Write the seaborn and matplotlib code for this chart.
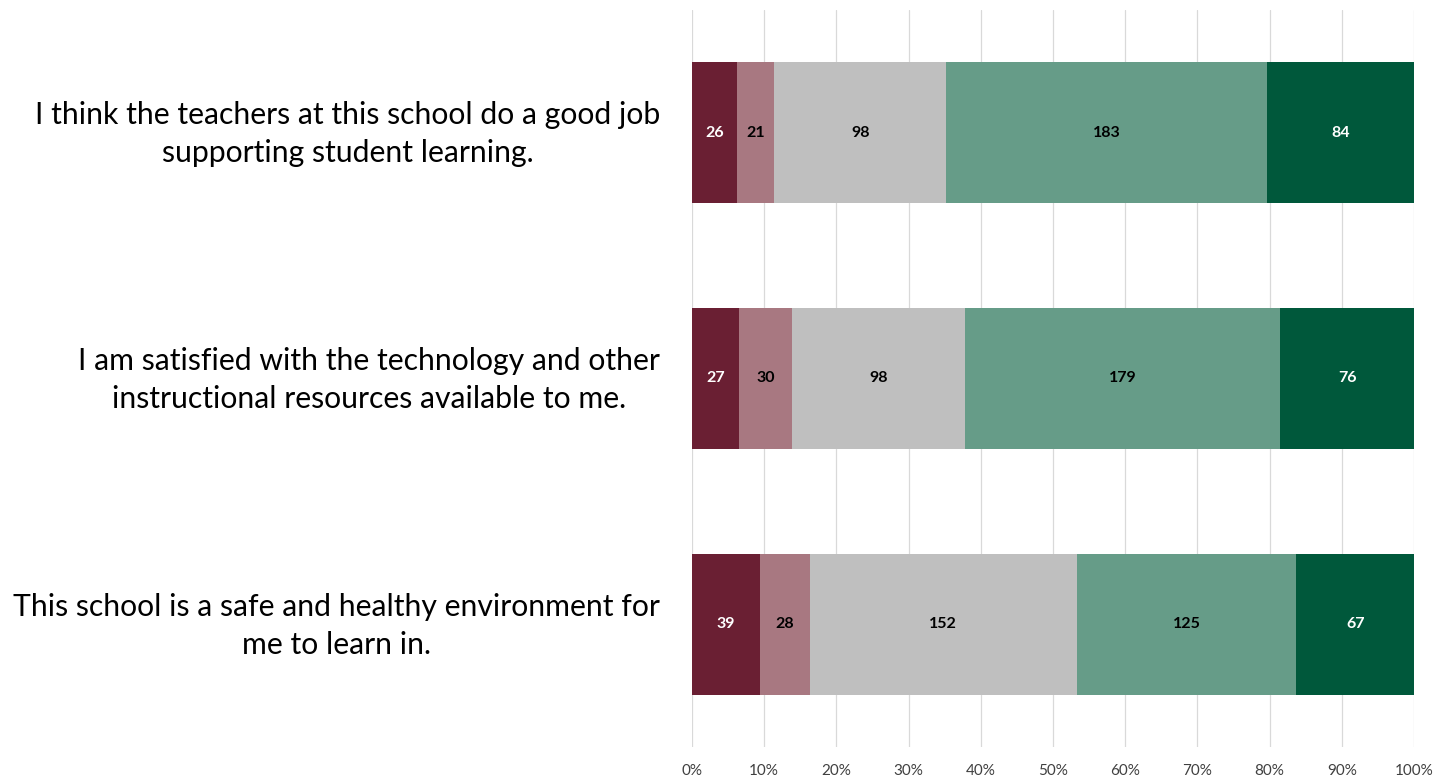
import numpy as np
import pandas as pd
import matplotlib
matplotlib.use("Agg")
import matplotlib.pyplot as plt
import matplotlib.transforms as mtransforms
import seaborn as sns

statements = [
    "I think the teachers at this school do a good job\nsupporting student learning.",
    "I am satisfied with the technology and other\ninstructional resources available to me.",
    "This school is a safe and healthy environment for\nme to learn in.",
]
levels = ["Strongly disagree", "Disagree", "Neutral", "Agree", "Strongly agree"]
strongly_disagree = [26, 27, 39]
disagree = [21, 30, 28]
neutral = [98, 98, 152]
agree = [183, 179, 125]
strongly_agree = [84, 76, 67]
tick_labels = ["0%", "10%", "20%", "30%", "40%", "50%", "60%", "70%", "80%", "90%", "100%"]

colors = ["#6A1F33", "#A87881", "#BFBFBF", "#669C88", "#00583B"]
text_colors = ["white", "black", "black", "black", "white"]

sns.set_theme(style="white")
plt.rcParams["font.family"] = ["Lato", "DejaVu Sans"]

counts = np.array([strongly_disagree, disagree, neutral, agree, strongly_agree], dtype=float)
pct = counts / counts.sum(axis=0) * 100
cum = np.cumsum(pct, axis=0)

fig = plt.figure(figsize=(14.43, 7.8), dpi=100)
ax = fig.add_axes([0.4795, 0.0417, 0.5004, 0.9461])

# Stacked bars: draw cumulative totals from the widest down so each segment shows
for k in range(len(levels) - 1, -1, -1):
    df = pd.DataFrame({"statement": statements, "value": cum[k]})
    sns.barplot(data=df, x="value", y="statement", orient="h", color=colors[k],
                saturation=1, width=0.57, linewidth=0, ax=ax, zorder=3)

for k in range(len(levels)):
    for i in range(len(statements)):
        center = cum[k, i] - pct[k, i] / 2
        ax.text(center, i, f"{int(counts[k, i])}", ha="center", va="center",
                fontsize=11.5, fontweight="bold", color=text_colors[k], zorder=5)

ax.set_xlim(0, 100)
ax.set_ylim(2.5, -0.5)
ax.set_xticks(np.arange(0, 101, 10))
ax.set_xticklabels(tick_labels, fontsize=11, color="#404040")
ax.xaxis.grid(True, color="#D9D9D9", linewidth=0.9)
ax.set_axisbelow(True)
for s in ax.spines.values():
    s.set_visible(False)
ax.tick_params(axis="x", length=0, pad=12)
ax.tick_params(axis="y", length=0, pad=23)
ax.set_xlabel("")
ax.set_ylabel("")
shift_up = mtransforms.ScaledTranslation(0, 6 / 100, fig.dpi_scale_trans)
for lbl in ax.get_yticklabels():
    lbl.set_fontsize(21.7)
    lbl.set_multialignment("center")
    lbl.set_linespacing(1.45)
    lbl.set_color("black")
    lbl.set_transform(lbl.get_transform() + shift_up)

fig.savefig("out.png", dpi=100)
